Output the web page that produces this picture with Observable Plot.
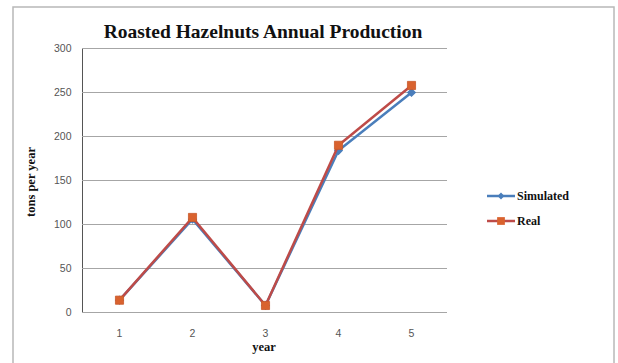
<!DOCTYPE html>
<html>
<head>
<meta charset="utf-8">
<script src="https://cdn.jsdelivr.net/npm/d3@7"></script>
<script src="https://cdn.jsdelivr.net/npm/@observablehq/plot@0.6"></script>
<style>
  html, body { margin: 0; padding: 0; background: #fff; }
  #chart { position: relative; width: 618px; height: 363px; }
</style>
</head>
<body>
<div id="chart"></div>
<script>
const years = [1, 2, 3, 4, 5];
const simulated = [14, 106, 8, 184, 250];
const real = [14, 108, 8, 190, 258];
const yTicks = [0, 50, 100, 150, 200, 250, 300];
const seriesNames = ["Simulated", "Real"];
const titleText = "Roasted Hazelnuts Annual Production";
const yLabel = "tons per year";
const xLabel = "year";

const simData = years.map((y, i) => ({year: y, value: simulated[i]}));
const realData = years.map((y, i) => ({year: y, value: real[i]}));

const blue = "#4a7ebb";
const redLine = "#be4b48";
const redMark = "#d9622e";
const serif = "'Liberation Serif', 'Times New Roman', serif";

const plot = Plot.plot({
  width: 618,
  height: 363,
  marginLeft: 82,
  marginRight: 171,
  marginTop: 48,
  marginBottom: 51,
  style: {background: "#fff", fontFamily: "'Liberation Sans', Arial, sans-serif", fontSize: "10.5px", color: "#555"},
  x: {type: "point", domain: years, padding: 0.5, label: null, tickSize: 0, tickPadding: 17},
  y: {domain: [0, 300], ticks: yTicks, label: null, tickSize: 0, tickPadding: 11, line: true},
  marks: [
    Plot.ruleY(yTicks, {stroke: "#a6a6a6", strokeWidth: 1}),
    Plot.line(simData, {x: "year", y: "value", stroke: blue, strokeWidth: 2.5}),
    Plot.dot(simData, {x: "year", y: "value", symbol: "diamond2", r: 3.2, fill: blue, stroke: blue}),
    Plot.line(realData, {x: "year", y: "value", stroke: redLine, strokeWidth: 2.5}),
    Plot.dot(realData, {x: "year", y: "value", symbol: "square", r: 4.6, fill: redMark, stroke: "#c8582a", strokeWidth: 0.8})
  ]
});

const svg = d3.select(plot);
// outer chart border
svg.insert("rect", ":first-child")
  .attr("x", 13).attr("y", 7).attr("width", 601).attr("height", 370)
  .attr("fill", "none").attr("stroke", "#b8b8b8").attr("stroke-width", 1.5);

svg.selectAll("[aria-label='y-axis line'], [aria-label='y-axis tick'] path").attr("stroke", "#a6a6a6");

svg.append("text")
  .attr("x", 263).attr("y", 38).attr("text-anchor", "middle")
  .attr("font-family", serif).attr("font-weight", "bold").attr("font-size", 19.5).attr("fill", "#111")
  .text(titleText);

svg.append("text")
  .attr("transform", "translate(35,182) rotate(-90)").attr("text-anchor", "middle")
  .attr("font-family", serif).attr("font-weight", "bold").attr("font-size", 12.5).attr("fill", "#111")
  .text(yLabel);

svg.append("text")
  .attr("x", 264).attr("y", 351).attr("text-anchor", "middle")
  .attr("font-family", serif).attr("font-weight", "bold").attr("font-size", 12.5).attr("fill", "#111")
  .text(xLabel);

// legend
const leg = [
  {name: seriesNames[0], color: blue, mark: blue, sym: d3.symbolDiamond2, size: 30, y: 196},
  {name: seriesNames[1], color: redLine, mark: redMark, sym: d3.symbolSquare, size: 60, y: 221}
];
leg.forEach(l => {
  svg.append("line").attr("x1", 487).attr("x2", 515).attr("y1", l.y).attr("y2", l.y)
    .attr("stroke", l.color).attr("stroke-width", 2.5);
  svg.append("path").attr("d", d3.symbol(l.sym, l.size)()).attr("transform", `translate(501,${l.y})`)
    .attr("fill", l.mark);
  svg.append("text").attr("x", 517).attr("y", l.y).attr("dy", "0.35em").attr("text-anchor", "start")
    .attr("font-family", serif).attr("font-weight", "bold").attr("font-size", 12).attr("fill", "#111")
    .text(l.name);
});

document.getElementById("chart").appendChild(plot);
</script>
</body>
</html>
